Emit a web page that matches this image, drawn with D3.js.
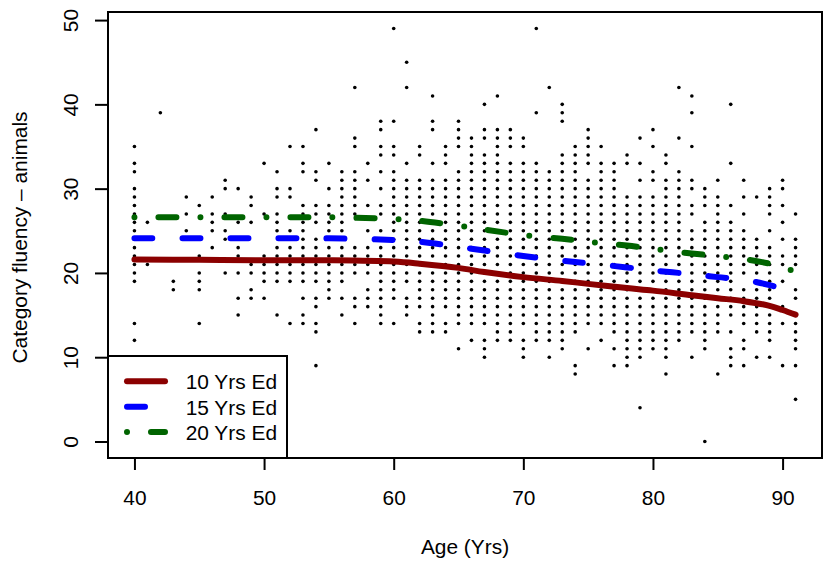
<!DOCTYPE html>
<html><head><meta charset="utf-8">
<script src="https://cdn.jsdelivr.net/npm/d3@7"></script>
<style>html,body{margin:0;padding:0;background:#fff}svg{display:block}text{font-family:"Liberation Sans",Helvetica,Arial,sans-serif;fill:#000}</style>
</head><body><svg id="c" width="823" height="561"></svg>
<script>
const xTicks=[40,50,60,70,80,90];
const yTicks=[0,10,20,30,40,50];
const xTitle="Age (Yrs)";
const yTitle="Category fluency \u2013 animals";
const legendLabels=["10 Yrs Ed","15 Yrs Ed","20 Yrs Ed"];
const lineColors=["#8b0000","#0000ff","#006400"];
const curveAges=[40,45,50,55,60,62,65,67,70,73,75,78,80,83,85,87,89,90,91];
const curve10=[21.6,21.55,21.5,21.5,21.35,21.1,20.6,20.1,19.5,19.05,18.7,18.2,17.9,17.35,17.0,16.65,16.1,15.6,15.05];
const curve15=[24.1,24.1,24.1,24.1,23.9,23.7,23.1,22.65,22.0,21.45,21.15,20.65,20.3,19.85,19.5,19.2,18.55,18.1,17.6];
const curve20=[26.6,26.6,26.6,26.6,26.4,26.2,25.6,25.15,24.5,24.05,23.7,23.25,22.85,22.3,22.0,21.65,21.1,20.7,20.1];
const ages=[40,41,42,43,44,45,46,47,48,49,50,51,52,53,54,55,56,57,58,59,60,61,62,63,64,65,66,67,68,69,70,71,72,73,74,75,76,77,78,79,80,81,82,83,84,85,86,87,88,89,90,91];
const scores=[
[12,14,19,20,21,22,23,25,26,27,28,29,30,32,33,35],
[21,26],
[39],
[19,18],
[29,27,25],
[28,22,20,19,18,14],
[29,27,26,25,23],
[31,30,27,25,24,20],
[30,26,23,22,20,17,15],
[29,28,26,21,20,18,17],
[33,27,22,21,20,19,17],
[32,30,29,27,26,25,23,22,21,20,19,15],
[35,30,29,25,23,22,21,20,19,14],
[35,33,32,28,27,26,25,24,23,22,21,20,19,17,15,14],
[37,32,31,28,27,26,24,23,22,21,20,19,17,16,14,13,9],
[33,30,28,27,26,25,23,22,21,20,19,18,17],
[32,31,30,29,28,27,26,25,24,23,22,21,20,19,17,15],
[42,36,35,32,31,30,29,28,27,23,22,21,20,17,16,14],
[33,31,28,25,23,22,21,20,18,17,16],
[38,37,35,34,32,30,28,27,25,24,23,22,21,20,19,18,17,16,15,14],
[49,38,35,34,32,31,30,29,28,27,26,25,24,23,22,21,20,19,18,17,14],
[45,42,33,31,30,29,28,27,26,25,24,23,22,21,20,19,17,16,15],
[35,34,31,30,29,28,27,26,25,24,23,22,21,20,19,18,17,16,14,13],
[41,38,37,33,31,30,29,28,27,26,25,24,23,22,21,20,19,18,17,16,15,14,13],
[35,34,33,31,30,29,28,27,26,25,24,23,22,21,20,19,18,17,16,14,13],
[38,37,36,35,32,31,30,29,28,27,26,25,24,23,22,21,20,19,18,17,16,15,14,11],
[36,35,34,33,32,31,30,29,28,27,26,25,24,23,22,21,20,19,18,17,16,15,14,12],
[40,37,36,34,33,32,31,30,29,28,27,26,25,24,23,22,21,20,19,18,17,16,15,14,12,11,10],
[41,37,36,35,34,33,32,31,30,29,28,27,26,25,24,23,22,21,20,19,18,17,16,15,14,13,12],
[37,36,35,33,32,31,30,29,28,27,26,25,24,23,22,21,20,19,18,17,16,15,14,13,12],
[36,35,33,32,31,30,29,28,27,26,25,24,23,22,21,20,19,18,17,16,15,14,12,11,10],
[49,39,33,32,31,30,29,28,27,26,25,24,23,22,21,20,19,18,17,16,15,14,13,12],
[42,32,31,30,29,28,27,26,25,24,23,22,21,20,19,18,17,16,15,14,13,12,10],
[40,39,38,34,33,32,31,30,29,28,27,26,25,24,23,22,21,20,19,18,17,16,15,14,13,12,11],
[35,34,33,32,31,30,29,28,27,26,25,24,23,22,21,20,19,18,17,16,15,14,13,9,8],
[37,36,35,34,33,31,30,29,28,27,26,25,24,23,22,21,20,19,18,17,16,15,14,11],
[35,33,32,31,30,29,28,27,26,25,24,23,22,21,20,19,18,17,16,15,14,12],
[33,32,31,30,29,28,27,26,25,24,23,22,21,20,19,18,17,16,15,14,13,11,9],
[34,33,29,28,27,26,25,24,23,22,21,20,19,18,17,16,15,14,13,12,11,10,9],
[36,33,31,29,28,27,26,25,24,23,22,21,20,19,18,17,16,15,14,13,12,11,10,4],
[37,35,32,31,29,28,27,26,25,24,23,22,21,20,19,18,17,16,15,14,13,12,11],
[34,33,31,30,29,28,27,26,25,24,23,22,21,20,19,18,17,16,15,14,13,12,11,10,8],
[42,36,32,31,30,29,28,27,26,25,24,23,22,21,20,19,18,17,16,15,14,13,12],
[41,39,35,31,30,28,27,25,24,23,22,21,20,19,18,17,16,15,14,13,10],
[30,29,28,26,25,24,23,22,21,20,19,18,17,16,15,14,13,12,11,0],
[31,29,28,27,26,25,24,23,22,21,20,19,18,17,16,15,14,13,8],
[40,33,28,26,25,24,23,22,21,20,19,18,17,16,15,13,11,10,9],
[31,29,27,25,24,23,22,21,20,18,17,16,15,14,12,11,9],
[29,24,23,22,21,20,19,18,17,16,15,14,13,10],
[30,29,28,27,25,23,22,21,20,19,18,17,16,15,14,13,12,10],
[31,30,28,26,24,22,21,19,16,14,9],
[27,24,23,22,21,18,17,15,14,13,12,11,9,5]
];
const FS=20.9;
const svg=d3.select("#c");
const L=108,R=822,T=12,B=458;
const x=d3.scaleLinear().domain([37.96,93.04]).range([L,R]);
const y=d3.scaleLinear().domain([-1.96,50.96]).range([B,T]);
const pts=ages.flatMap((a,i)=>scores[i].map(v=>({a,v})));
svg.append("g").selectAll("circle").data(pts).join("circle")
 .attr("cx",d=>x(d.a)).attr("cy",d=>y(d.v)).attr("r",1.8).attr("fill","#000");
const line=d3.line().x(d=>x(d[0])).y(d=>y(d[1])).curve(d3.curveCatmullRom.alpha(0.5));
const dashes=[null,"18 30","0 24 18 24"];
[curve10,curve15,curve20].forEach((c,i)=>{
 svg.append("path").attr("d",line(curveAges.map((a,j)=>[a,c[j]])))
  .attr("fill","none").attr("stroke",lineColors[i]).attr("stroke-width",6)
  .attr("stroke-linecap","round").attr("stroke-linejoin","round")
  .attr("stroke-dasharray",dashes[i]);
});
svg.append("rect").attr("x",L).attr("y",T).attr("width",R-L).attr("height",B-T)
 .attr("fill","none").attr("stroke","#000").attr("stroke-width",2);
const style=g=>{g.select(".domain").remove();
 g.selectAll(".tick line").attr("stroke-width",2);
 g.selectAll("text").attr("font-size",FS).attr("font-family",'"Liberation Sans",sans-serif');};
svg.append("g").attr("transform",`translate(0,${B})`)
 .call(d3.axisBottom(x).tickValues(xTicks).tickSize(12).tickPadding(20)).call(style);
svg.append("g").attr("transform",`translate(${L},0)`)
 .call(d3.axisLeft(y).tickValues(yTicks).tickSize(13)).call(style)
 .call(g=>g.selectAll("text").attr("x",0).attr("dy",0).attr("text-anchor","middle")
   .attr("transform","translate(-30,0) rotate(-90)"));
svg.append("text").attr("x",465).attr("y",554).attr("text-anchor","middle").attr("font-size",FS).text(xTitle);
svg.append("text").attr("transform",`translate(27,237.5) rotate(-90)`).attr("text-anchor","middle").attr("font-size",FS).text(yTitle);
const lg=svg.append("g");
lg.append("rect").attr("x",L).attr("y",356).attr("width",179).attr("height",B-356).attr("fill","#fff").attr("stroke","#000").attr("stroke-width",2);
const ly=[381.3,406.7,432];
legendLabels.forEach((t,i)=>{
 lg.append("line").attr("x1",127).attr("x2",165).attr("y1",ly[i]).attr("y2",ly[i]).attr("stroke",lineColors[i]).attr("stroke-width",6)
  .attr("stroke-linecap","round").attr("stroke-dasharray",dashes[i]);
 lg.append("text").attr("x",277).attr("y",ly[i]+8).attr("text-anchor","end").attr("font-size",FS).text(t);
});
</script></body></html>
